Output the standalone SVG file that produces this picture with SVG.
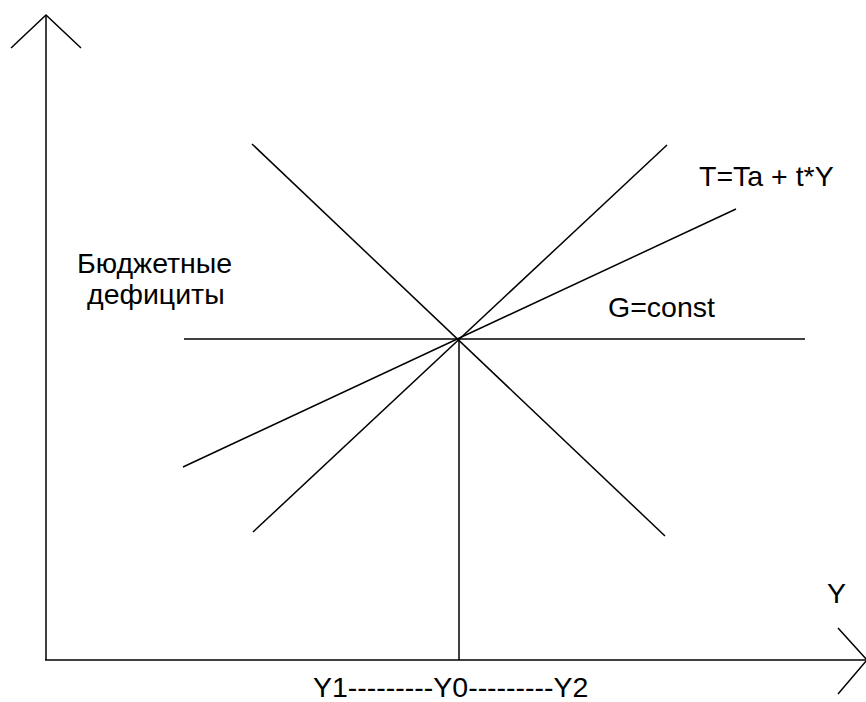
<svg xmlns="http://www.w3.org/2000/svg" width="866" height="702" viewBox="0 0 866 702">
<style>
.ln{stroke:#000;stroke-width:1.5;fill:none}
.tx{font-family:"Liberation Sans",Arial,sans-serif;font-size:28.5px;fill:#000}
</style>
<rect width="866" height="702" fill="#fff"/>
<g id="axes">
<line class="ln" x1="46" y1="15" x2="46" y2="660"/>
<polyline class="ln" points="11,48 46,15 81,48"/>
<line class="ln" x1="45" y1="660" x2="866" y2="660"/>
<polyline class="ln" points="838,628 867,660 838,694"/>
</g>
<g id="connectors">
<line class="ln" x1="252" y1="144" x2="665" y2="536"/>
<line class="ln" x1="253" y1="532" x2="667" y2="145"/>
<line class="ln" x1="183" y1="467" x2="736" y2="209"/>
<line class="ln" x1="184" y1="339" x2="805" y2="339"/>
<line class="ln" x1="459" y1="339" x2="459" y2="660"/>
</g>
<g id="labels">
<text class="tx" x="699" y="186">T=Ta + t*Y</text>
<text class="tx" x="608" y="317">G=const</text>
<text class="tx" x="77" y="273">Бюджетные</text>
<text class="tx" x="87" y="304">дефициты</text>
<text class="tx" x="827" y="603">Y</text>
<text class="tx" x="313" y="697">Y1---------Y0---------Y2</text>
</g>
</svg>
